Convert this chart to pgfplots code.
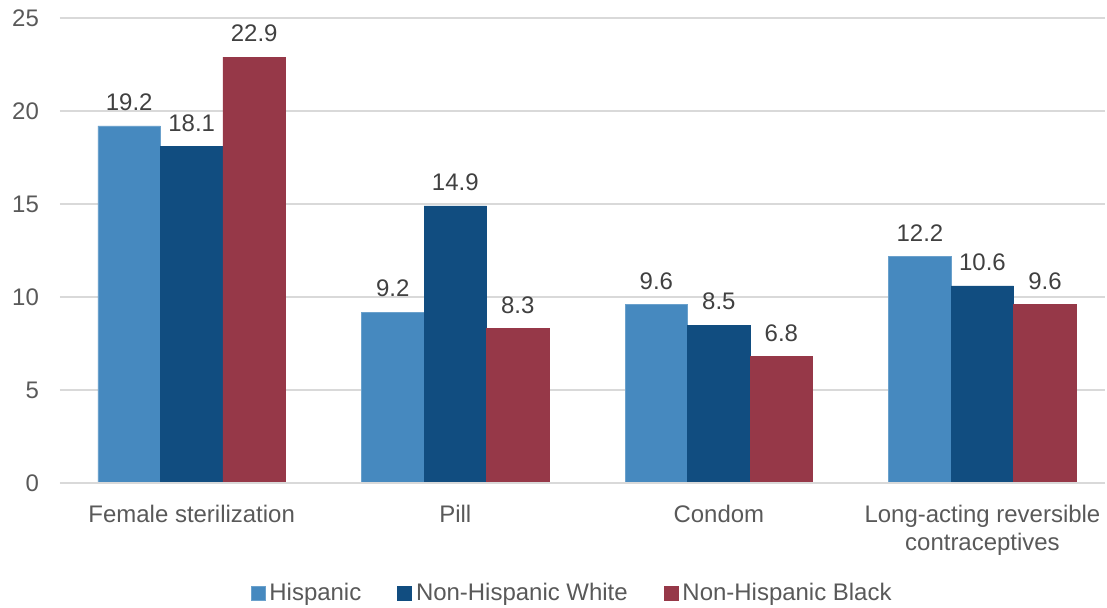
\documentclass[border=0pt]{standalone}
\usepackage{pgfplots}
\pgfplotsset{compat=1.18}
\usepackage{fontspec}
\setmainfont{Liberation Sans}

\definecolor{hisp}{RGB}{70,137,191}
\definecolor{nhwhite}{RGB}{17,77,128}
\definecolor{nhblack}{RGB}{150,56,72}
\definecolor{gridgray}{RGB}{217,217,217}
\definecolor{ticktext}{RGB}{89,89,89}
\definecolor{labeltext}{RGB}{64,64,64}

\begin{document}
\begin{tikzpicture}
    \begin{axis}[
        scale only axis,
        width=523.5pt,
        height=233pt,
        ybar=0pt,
        bar width=31.3pt,
        xmin=-0.5, xmax=3.466,
        ymin=0, ymax=25,
        ytick={0,5,...,25},
        xtick=data,
        xticklabels={Female sterilization, Pill, Condom, {Long-acting reversible\\contraceptives}},
        xticklabel style={align=center, text=ticktext, font=\fontsize{12}{14}\selectfont, yshift=-7.5pt},
        yticklabel style={text=ticktext, font=\fontsize{12}{14}\selectfont, xshift=-7pt},
        /pgf/number format/assume math mode=true,
        major tick length=0pt,
        axis line style={draw=none},
        axis x line*=bottom,
        ymajorgrids=true,
        grid style={draw=gridgray, line width=0.75pt},
        nodes near coords,
        nodes near coords style={/pgf/number format/fixed, /pgf/number format/precision=1,
            /pgf/number format/fixed zerofill},
        every node near coord/.append style={text=labeltext, font=\fontsize{12}{14}\selectfont, yshift=4pt},
        legend columns=3,
        legend style={at={(rel axis cs:0.4909,0)}, anchor=center, yshift=-55pt,
            draw=none, font=\fontsize{12}{14}\selectfont, text=ticktext,
            /tikz/every odd column/.append style={column sep=0pt},
            /tikz/every even column/.append style={column sep=16pt},
            inner sep=0pt},
        legend image code/.code={\fill[#1] (1pt,-3.5pt) rectangle (8pt,3.5pt);},
        clip=false,
    ]
    \addplot[fill=hisp, draw=hisp!80!white] coordinates {(0,19.2) (1,9.2) (2,9.6) (3,12.2)};
    \addlegendentry{Hispanic}
    \addplot[fill=nhwhite, draw=nhwhite] coordinates {(0,18.1) (1,14.9) (2,8.5) (3,10.6)};
    \addlegendentry{Non-Hispanic White}
    \addplot[fill=nhblack, draw=nhblack] coordinates {(0,22.9) (1,8.3) (2,6.8) (3,9.6)};
    \addlegendentry{Non-Hispanic Black}
    \draw[gridgray, line width=1pt] (rel axis cs:0,0) -- (rel axis cs:1,0);
    \end{axis}
    \useasboundingbox (-30pt,-60.5pt) rectangle (523.5pt,242pt);
\end{tikzpicture}
\end{document}
